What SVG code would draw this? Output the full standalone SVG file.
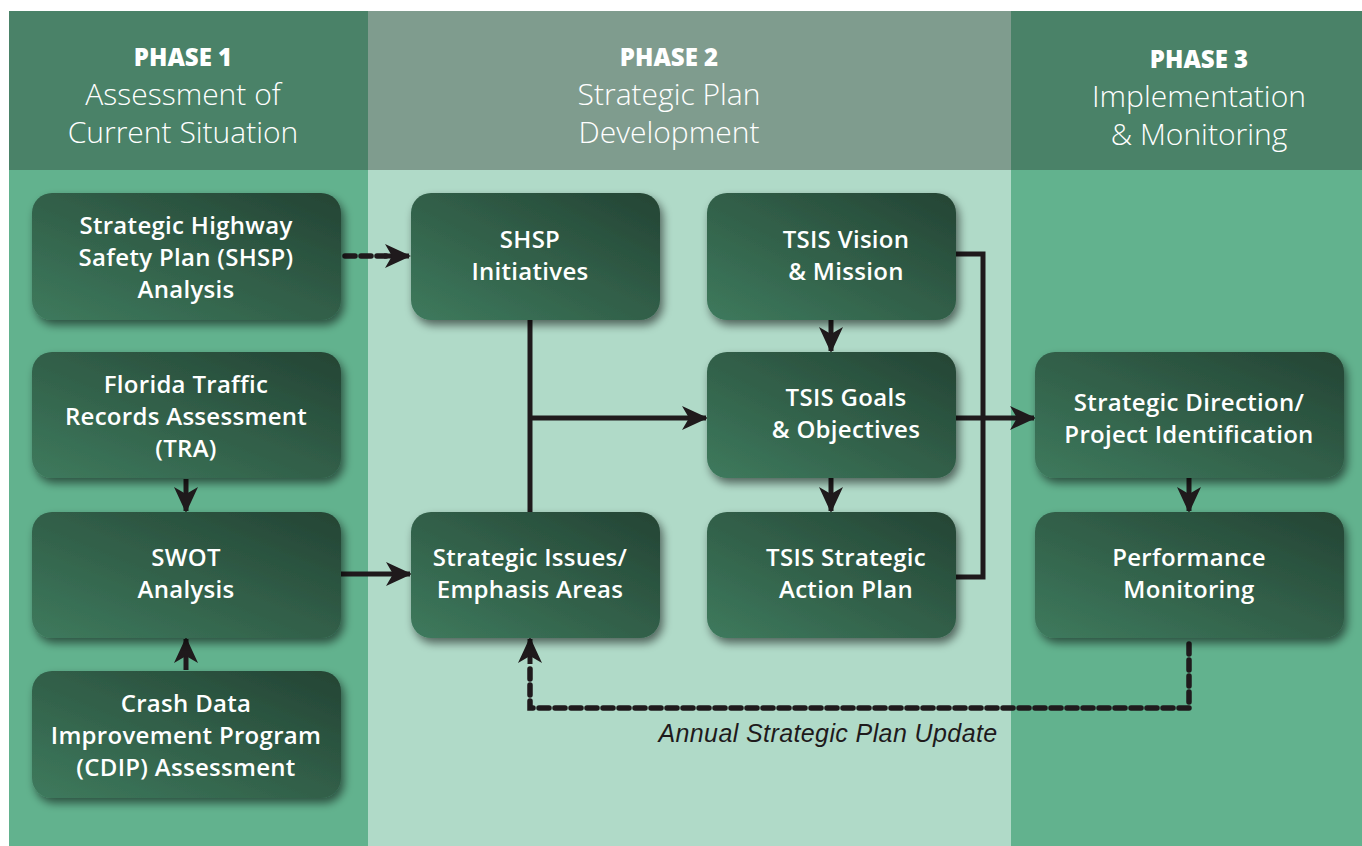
<svg xmlns="http://www.w3.org/2000/svg" width="1362" height="846" viewBox="0 0 1362 846">
<defs>
<linearGradient id="ng" x1="0" y1="1" x2="1" y2="0">
<stop offset="0" stop-color="#3e7a5d"/>
<stop offset="1" stop-color="#244434"/>
</linearGradient>
<filter id="sh" x="-10%" y="-10%" width="125%" height="130%">
<feGaussianBlur in="SourceAlpha" stdDeviation="5"/>
<feOffset dx="3" dy="5" result="b"/>
<feComponentTransfer><feFuncA type="linear" slope="0.55"/></feComponentTransfer>
<feMerge><feMergeNode/><feMergeNode in="SourceGraphic"/></feMerge>
</filter>
<marker id="ah" markerUnits="userSpaceOnUse" markerWidth="26" markerHeight="24" refX="24" refY="12" orient="auto">
<path d="M0,0 L26,12 L0,24 L7,12 z" fill="#1f1a1c"/>
</marker>
</defs>
<style>
.node rect{fill:url(#ng);filter:url(#sh)}
.nt{font-family:"Open Sans","Liberation Sans",sans-serif;font-weight:600;font-size:24px;letter-spacing:0.3px;fill:#ffffff;text-anchor:middle}
.ph{font-family:"Open Sans","Liberation Sans",sans-serif;font-weight:800;font-size:24px;fill:#ffffff;text-anchor:middle}
.hs{font-family:"Open Sans","Liberation Sans",sans-serif;font-weight:300;font-size:30px;fill:#ffffff;text-anchor:middle}
.ln{fill:none;stroke:#1f1a1c;stroke-width:5}
.dl{fill:none;stroke:#1f1a1c;stroke-width:5.5;stroke-dasharray:10,6;stroke-linecap:round}
.lab{font-family:"Liberation Sans","Open Sans",sans-serif;font-style:italic;font-size:25px;letter-spacing:0.4px;fill:#1f1a1c;text-anchor:middle}
</style>
<rect width="1362" height="846" fill="#ffffff"/>
<g id="background">
<rect x="9" y="11" width="359" height="159" fill="#4a8268"/>
<rect x="368" y="11" width="643" height="159" fill="#7f9c8e"/>
<rect x="1011" y="11" width="351" height="159" fill="#4a8268"/>
<rect x="9" y="170" width="359" height="676" fill="#62b28e"/>
<rect x="368" y="170" width="643" height="676" fill="#b0dac8"/>
<rect x="1011" y="170" width="351" height="676" fill="#62b28e"/>
</g>
<g id="headers">
<text class="ph" x="183" y="66">PHASE 1</text>
<text class="hs" x="183" y="105">Assessment of</text>
<text class="hs" x="183" y="143">Current Situation</text>
<text class="ph" x="669" y="66">PHASE 2</text>
<text class="hs" x="669" y="105">Strategic Plan</text>
<text class="hs" x="669" y="143">Development</text>
<text class="ph" x="1199" y="68">PHASE 3</text>
<text class="hs" x="1199" y="107">Implementation</text>
<text class="hs" x="1199" y="145">&amp; Monitoring</text>
</g>
<g id="connectors">
<line class="dl" x1="345" y1="256" x2="386" y2="256"/>
<line class="ln" x1="384" y1="256" x2="409" y2="256" marker-end="url(#ah)"/>
<line class="ln" x1="186" y1="479" x2="186" y2="511" marker-end="url(#ah)"/>
<line class="ln" x1="186" y1="670" x2="186" y2="639" marker-end="url(#ah)"/>
<line class="ln" x1="341" y1="574" x2="410" y2="574" marker-end="url(#ah)"/>
<line class="ln" x1="530" y1="320" x2="530" y2="512"/>
<line class="ln" x1="528" y1="418" x2="706" y2="418" marker-end="url(#ah)"/>
<line class="ln" x1="831" y1="320" x2="831" y2="351" marker-end="url(#ah)"/>
<line class="ln" x1="831" y1="478" x2="831" y2="511" marker-end="url(#ah)"/>
<polyline class="ln" points="956,254 983,254 983,577 956,577"/>
<line class="ln" x1="956" y1="418" x2="1034" y2="418" marker-end="url(#ah)"/>
<line class="ln" x1="1189" y1="478" x2="1189" y2="511" marker-end="url(#ah)"/>
<polyline class="dl" points="1189,644 1189,708 530,708 530,664"/>
<line class="ln" x1="530" y1="664" x2="530" y2="639" marker-end="url(#ah)"/>
<text class="lab" x="828" y="742">Annual Strategic Plan Update</text>
</g>
<g id="n-shsp-analysis" class="node"><rect x="32" y="193" width="309" height="127" rx="20"/>
<text class="nt" x="186" y="234">Strategic Highway</text><text class="nt" x="186" y="266">Safety Plan (SHSP)</text><text class="nt" x="186" y="298">Analysis</text></g>
<g id="n-tra" class="node"><rect x="32" y="352" width="309" height="126" rx="20"/>
<text class="nt" x="186" y="393">Florida Traffic</text><text class="nt" x="186" y="425">Records Assessment</text><text class="nt" x="186" y="457">(TRA)</text></g>
<g id="n-swot" class="node"><rect x="32" y="512" width="309" height="126" rx="20"/>
<text class="nt" x="186" y="566">SWOT</text><text class="nt" x="186" y="598">Analysis</text></g>
<g id="n-cdip" class="node"><rect x="32" y="671" width="309" height="127" rx="20"/>
<text class="nt" x="186" y="712">Crash Data</text><text class="nt" x="186" y="744">Improvement Program</text><text class="nt" x="186" y="776">(CDIP) Assessment</text></g>
<g id="n-shsp-init" class="node"><rect x="411" y="193" width="249" height="127" rx="20"/>
<text class="nt" x="530" y="248">SHSP</text><text class="nt" x="530" y="280">Initiatives</text></g>
<g id="n-issues" class="node"><rect x="411" y="512" width="249" height="126" rx="20"/>
<text class="nt" x="530" y="566">Strategic Issues/</text><text class="nt" x="530" y="598">Emphasis Areas</text></g>
<g id="n-vision" class="node"><rect x="707" y="193" width="249" height="127" rx="20"/>
<text class="nt" x="846" y="248">TSIS Vision</text><text class="nt" x="846" y="280">&amp; Mission</text></g>
<g id="n-goals" class="node"><rect x="707" y="352" width="249" height="126" rx="20"/>
<text class="nt" x="846" y="406">TSIS Goals</text><text class="nt" x="846" y="438">&amp; Objectives</text></g>
<g id="n-action" class="node"><rect x="707" y="512" width="249" height="126" rx="20"/>
<text class="nt" x="846" y="566">TSIS Strategic</text><text class="nt" x="846" y="598">Action Plan</text></g>
<g id="n-direction" class="node"><rect x="1035" y="352" width="309" height="126" rx="20"/>
<text class="nt" x="1189" y="411">Strategic Direction/</text><text class="nt" x="1189" y="443">Project Identification</text></g>
<g id="n-performance" class="node"><rect x="1035" y="512" width="309" height="126" rx="20"/>
<text class="nt" x="1189" y="566">Performance</text><text class="nt" x="1189" y="598">Monitoring</text></g>
</svg>
